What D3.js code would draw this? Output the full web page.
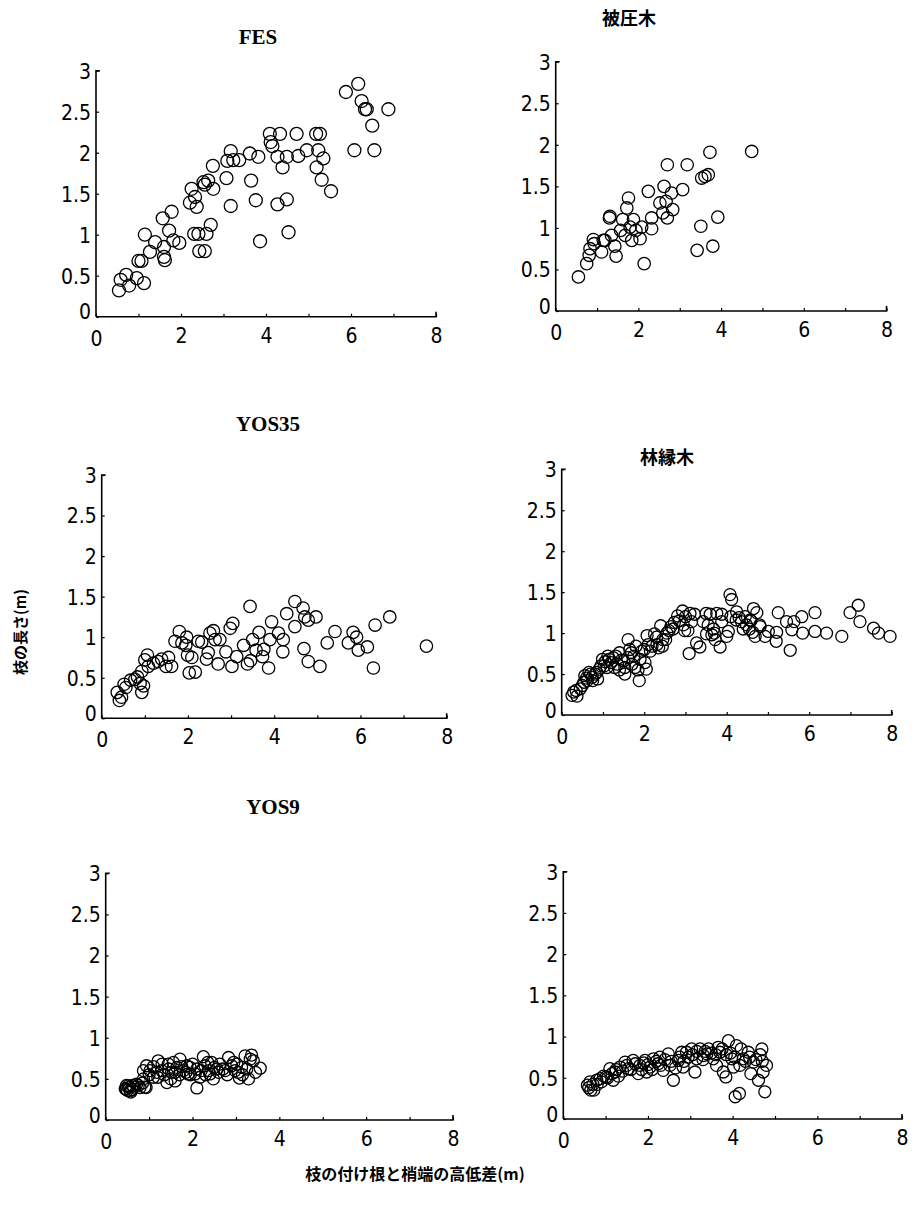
<!DOCTYPE html>
<html><head><meta charset="utf-8">
<script src="https://cdn.jsdelivr.net/npm/d3@7"></script>
<style>body{margin:0;background:#fff}</style>
</head><body>
<script>
// ---- data (x: 枝の付け根と梢端の高低差 m, y: 枝の長さ m) ----
const xTicks = [0, 2, 4, 6, 8];
const yTicks = [0, 0.5, 1, 1.5, 2, 2.5, 3];
const yTickLabels = ["0", "0.5", "1", "1.5", "2", "2.5", "3"];
const panelTitles = ["FES", "被圧木", "YOS35", "林縁木", "YOS9", ""];

const fesX = [0.54,0.58,0.71,0.78,0.96,1.13,1.0,1.07,1.15,1.27,1.39,1.57,1.6,1.6,1.62,1.72,1.78,1.82,1.96,2.25,2.21,2.33,2.37,2.31,2.41,2.43,2.56,2.6,2.7,2.53,2.64,2.56,2.76,2.75,3.07,3.09,3.17,3.23,3.37,3.17,3.62,3.65,3.76,3.82,3.86,4.09,4.11,4.15,4.27,4.33,4.39,4.27,4.49,4.49,4.53,4.72,4.76,4.96,5.18,5.27,5.23,5.19,5.35,5.31,5.53,5.88,6.17,6.25,6.33,6.37,6.5,6.08,6.55,6.88];
const fesY = [0.32,0.45,0.51,0.38,0.47,0.41,0.68,0.68,1.0,0.79,0.91,1.2,0.85,0.73,0.69,1.05,1.28,0.93,0.9,1.56,1.39,1.46,1.34,1.01,1.01,0.8,0.8,1.01,1.12,1.64,1.66,1.61,1.56,1.84,1.69,1.9,2.02,1.91,1.91,1.35,1.99,1.66,1.42,1.95,0.92,2.23,2.13,2.08,1.95,2.23,1.82,1.37,1.43,1.95,1.03,2.23,1.96,2.03,2.23,2.23,2.03,1.82,1.93,1.67,1.53,2.74,2.84,2.63,2.53,2.53,2.33,2.03,2.03,2.53];

const hiatsuX = [0.55,0.75,0.81,0.83,0.91,0.93,1.11,1.15,1.19,1.3,1.31,1.35,1.43,1.46,1.57,1.62,1.68,1.72,1.76,1.8,1.84,1.88,1.94,2.04,2.08,2.14,2.24,2.32,2.32,2.52,2.59,2.62,2.67,2.7,2.7,2.83,2.8,3.07,3.18,3.42,3.53,3.51,3.61,3.69,3.73,3.8,3.92,4.74];
const hiatsuY = [0.41,0.57,0.67,0.75,0.86,0.81,0.71,0.85,0.85,1.12,1.14,0.91,0.78,0.66,0.97,1.1,0.91,1.24,1.36,1.01,0.85,1.1,0.97,0.87,1.01,0.57,1.44,1.12,0.99,1.3,1.18,1.5,1.32,1.12,1.76,1.22,1.42,1.46,1.76,0.73,1.6,1.02,1.62,1.64,1.91,0.78,1.13,1.92];

const yos35X = [0.36,0.41,0.46,0.52,0.56,0.67,0.77,0.83,0.89,0.93,0.97,0.93,1.0,1.06,1.08,1.2,1.31,1.39,1.49,1.55,1.62,1.7,1.8,1.86,1.95,1.97,1.99,2.03,2.09,2.17,2.24,2.32,2.43,2.47,2.51,2.59,2.63,2.74,2.7,2.88,2.98,3.02,3.04,3.13,3.29,3.38,3.44,3.5,3.45,3.58,3.65,3.73,3.76,3.87,3.9,3.94,4.1,4.21,4.2,4.29,4.48,4.48,4.67,4.71,4.69,4.79,4.79,4.97,5.06,5.23,5.41,5.72,5.83,5.91,5.95,6.16,6.3,6.34,6.68,7.53];
const yos35Y = [0.32,0.22,0.26,0.42,0.38,0.47,0.48,0.51,0.43,0.32,0.4,0.58,0.72,0.78,0.64,0.68,0.7,0.73,0.64,0.75,0.64,0.95,1.07,0.93,0.9,1.0,0.78,0.56,0.75,0.57,0.95,0.94,0.73,0.81,1.05,1.08,0.97,0.97,0.67,0.82,1.11,0.64,1.17,0.76,0.9,0.67,1.38,0.97,0.71,0.84,1.06,0.76,0.85,0.62,0.97,1.19,1.05,0.97,0.82,1.29,1.44,1.13,1.36,1.25,0.86,0.7,1.21,1.25,0.64,0.93,1.07,0.93,1.06,1.0,0.84,0.88,0.62,1.15,1.25,0.89];

const rinenX = [0.25,0.29,0.37,0.45,0.54,0.56,0.62,0.66,0.74,0.81,0.87,0.91,0.99,1.03,1.12,1.2,1.28,1.31,1.4,1.45,1.53,1.53,1.61,1.65,1.69,1.78,1.8,1.88,1.94,2.05,2.02,2.07,2.19,2.25,2.31,2.4,2.44,2.52,2.6,2.73,2.81,2.93,2.98,3.06,3.11,3.15,3.09,3.22,3.27,3.35,3.43,3.51,3.5,3.6,3.64,3.68,3.72,3.76,3.84,3.88,3.88,4.0,4.04,4.08,4.12,4.24,4.23,4.3,4.36,4.4,4.48,4.57,4.59,4.63,4.65,4.73,4.69,4.81,4.93,5.01,5.21,5.2,5.25,5.45,5.54,5.58,5.63,5.82,5.84,6.14,6.14,6.42,6.79,6.99,7.19,7.23,7.56,7.68,7.96,
  0.35,0.5,0.6,0.7,0.75,0.85,0.95,1.05,1.1,1.15,1.25,1.35,1.4,1.5,1.6,1.7,1.75,1.85,1.9,2.0,2.1,2.15,2.3,2.35,2.45,2.55,2.65,2.7,2.85,2.95,3.0,3.55,3.7,4.1,4.45,4.55,4.8];
const rinenY = [0.24,0.28,0.23,0.32,0.4,0.48,0.42,0.52,0.46,0.5,0.44,0.56,0.68,0.6,0.72,0.64,0.58,0.72,0.76,0.67,0.5,0.58,0.92,0.8,0.76,0.58,0.84,0.42,0.78,0.56,0.64,0.97,0.84,0.99,0.86,1.09,0.84,0.92,1.03,1.13,1.21,1.27,1.03,1.03,1.24,1.14,0.75,1.23,0.88,0.83,1.14,0.99,1.24,1.23,0.98,1.05,0.92,1.24,0.83,1.14,1.23,0.96,1.02,1.47,1.41,1.26,1.16,1.19,1.14,1.05,1.1,1.16,1.15,1.01,1.3,1.25,0.96,1.08,0.96,1.02,1.01,0.9,1.25,1.14,0.79,1.04,1.14,1.2,1.0,1.25,1.02,1.0,0.96,1.25,1.34,1.14,1.06,1.0,0.96,
  0.3,0.36,0.45,0.5,0.42,0.52,0.6,0.65,0.58,0.68,0.7,0.62,0.55,0.66,0.7,0.62,0.72,0.55,0.68,0.8,0.86,0.78,0.95,0.82,0.92,1.0,1.08,1.05,1.15,1.1,1.2,1.1,1.0,1.2,1.2,1.05,1.1];

const yos9X = [0.47,0.52,0.56,0.64,0.71,0.79,0.93,0.87,0.94,1.02,1.1,1.21,1.29,1.41,1.44,1.52,1.6,1.64,1.71,1.79,1.87,1.94,2.06,2.1,2.17,2.25,2.29,2.37,2.44,2.48,2.56,2.63,2.83,2.9,2.98,3.08,3.13,3.21,3.29,3.33,3.36,3.56,0.87,1.18,1.56,1.9,2.4,2.75,3.02,
  0.45,0.5,0.55,0.6,0.62,0.48,0.58,0.75,0.85,0.9,1.0,1.1,1.2,1.3,1.35,1.45,1.5,1.6,1.7,1.75,1.85,1.95,2.0,2.1,2.2,2.3,2.35,2.5,2.6,2.7,2.8,2.95,3.05,3.15,3.25,3.4,3.45];
const yos9Y = [0.375,0.415,0.355,0.4,0.435,0.395,0.395,0.5,0.66,0.6,0.52,0.72,0.6,0.455,0.68,0.58,0.475,0.64,0.74,0.6,0.66,0.64,0.56,0.39,0.52,0.77,0.66,0.6,0.7,0.5,0.62,0.68,0.76,0.66,0.6,0.51,0.64,0.78,0.5,0.74,0.79,0.63,0.6,0.58,0.7,0.56,0.56,0.6,0.68,
  0.38,0.36,0.4,0.37,0.42,0.42,0.34,0.42,0.45,0.4,0.55,0.65,0.52,0.68,0.55,0.62,0.5,0.58,0.55,0.65,0.58,0.55,0.68,0.62,0.6,0.55,0.7,0.64,0.58,0.62,0.55,0.7,0.58,0.55,0.62,0.72,0.58];

const yos9bX = [0.57,0.63,0.72,0.79,0.87,1.01,1.1,1.18,1.22,1.34,1.46,1.54,1.65,1.77,1.81,1.93,2.05,2.13,2.24,2.36,2.48,2.52,2.6,2.72,2.83,2.91,3.03,3.11,3.23,3.31,3.43,3.54,3.62,3.7,3.78,3.84,3.9,3.98,4.02,4.09,4.06,4.16,4.25,4.37,4.43,4.49,4.61,4.69,4.72,4.76,4.8,1.97,2.28,2.8,3.15,3.39,3.66,4.17,
  0.6,0.65,0.7,0.8,0.9,0.95,1.05,1.15,1.25,1.3,1.4,1.5,1.6,1.7,1.85,1.9,2.0,2.1,2.2,2.3,2.4,2.55,2.65,2.75,2.85,2.95,3.05,3.15,3.3,3.35,3.5,3.6,3.75,3.85,3.95,4.05,4.2,4.3,4.4,4.55,4.65,4.7];
const yos9bY = [0.41,0.45,0.35,0.47,0.49,0.51,0.61,0.47,0.57,0.63,0.69,0.61,0.71,0.55,0.65,0.71,0.63,0.73,0.67,0.59,0.79,0.65,0.47,0.71,0.63,0.81,0.85,0.57,0.85,0.77,0.85,0.73,0.65,0.81,0.57,0.51,0.95,0.73,0.63,0.89,0.27,0.31,0.73,0.81,0.55,0.69,0.47,0.85,0.57,0.33,0.65,0.57,0.75,0.81,0.73,0.79,0.87,0.65,
  0.38,0.35,0.42,0.42,0.45,0.52,0.5,0.55,0.6,0.52,0.58,0.65,0.6,0.67,0.6,0.68,0.66,0.6,0.7,0.65,0.72,0.7,0.62,0.75,0.7,0.75,0.78,0.82,0.72,0.82,0.8,0.78,0.85,0.78,0.8,0.75,0.85,0.7,0.75,0.72,0.78,0.7];

const seriesX = [fesX, hiatsuX, yos35X, rinenX, yos9X, yos9bX];
const seriesY = [fesY, hiatsuY, yos35Y, rinenY, yos9Y, yos9bY];

// ---- layout ----
const W = 916, H = 1211;
const boxes = [
  {l: 96,    r: 436,   b: 316.7, t: 70.7,  rad: 6.5, title: [258, 44, "serif"]},
  {l: 555.7, r: 886.5, b: 311,   t: 61.7,  rad: 6.2, title: [629, 25, "cjk"]},
  {l: 101.7, r: 446.7, b: 718.3, t: 475,   rad: 6.2, title: [268, 431, "serif"]},
  {l: 561.7, r: 891.7, b: 715,   t: 469.3, rad: 6.0, title: [667, 464, "cjk"]},
  {l: 105.7, r: 453,   b: 1120,  t: 873.3, rad: 6.0, title: [273, 814, "serif"]},
  {l: 563.3, r: 902,   b: 1119,  t: 871.7, rad: 6.0, title: [700, 820, "cjk"]}
];

const svg = d3.select("body").append("svg").attr("width", W).attr("height", H)
  .style("font-family", "'DejaVu Sans Condensed','DejaVu Sans',sans-serif");

boxes.forEach((bx, i) => {
  const x = d3.scaleLinear().domain([0, 8]).range([bx.l, bx.r]);
  const y = d3.scaleLinear().domain([0, 3]).range([bx.b, bx.t]);
  const g = svg.append("g");

  const xa = g.append("g").attr("transform", `translate(0,${bx.b})`)
    .call(d3.axisBottom(x).tickValues(d3.range(0, 9, 1)).tickSize(-3).tickPadding(8)
      .tickFormat(d => xTicks.includes(d) ? d : ""));
  const ya = g.append("g").attr("transform", `translate(${bx.l},0)`)
    .call(d3.axisLeft(y).tickValues(yTicks).tickSize(-3).tickPadding(5)
      .tickFormat((d, k) => yTickLabels[k]));
  [xa, ya].forEach(a => {
    a.select(".domain").attr("stroke", "#000").attr("stroke-width", 1.6);
    a.selectAll(".tick line").attr("stroke", "#000").attr("stroke-width", 1.2);
    a.selectAll(".tick text").attr("fill", "#000").style("font-size", "21px")
      .style("font-family", "'DejaVu Sans Condensed','DejaVu Sans',sans-serif");
  });
  xa.select(".domain").attr("d", `M${bx.l},0H${bx.r}V-5`);
  ya.select(".domain").attr("d", `M4,${bx.t}H0V${bx.b}`);
  xa.selectAll(".tick text").attr("dy", "0.85em");
  ya.selectAll(".tick text").attr("dy", "0.35em");
  ya.selectAll(".tick").filter(d => d === 0).select("text").attr("dy", "0.1em");
  xa.selectAll(".tick").filter(d => d === 0).select("text").attr("dy", "1.0em");

  const xs = seriesX[i], ys = seriesY[i];
  g.append("g").selectAll("circle").data(d3.range(xs.length)).join("circle")
    .attr("cx", k => x(xs[k])).attr("cy", k => y(ys[k])).attr("r", bx.rad)
    .attr("fill", "none").attr("stroke", "#000").attr("stroke-width", 1.3);

  if (panelTitles[i]) {
    const t = svg.append("text").attr("x", bx.title[0]).attr("y", bx.title[1])
      .attr("text-anchor", "middle").attr("fill", "#000").attr("font-weight", "bold")
      .text(panelTitles[i]);
    if (bx.title[2] === "serif") t.style("font-family", "'Liberation Serif','Times New Roman',serif").style("font-size", "21px");
    else t.style("font-family", "'Noto Sans CJK JP',sans-serif").style("font-size", "18px");
  }
});

svg.append("text").attr("transform", "translate(26,632) rotate(-90)")
  .attr("text-anchor", "middle").style("font-family", "'Noto Sans CJK JP',sans-serif")
  .style("font-size", "15px").attr("font-weight", "bold").text("枝の長さ(m)");
svg.append("text").attr("x", 415).attr("y", 1180)
  .attr("text-anchor", "middle").style("font-family", "'Noto Sans CJK JP',sans-serif")
  .style("font-size", "16px").attr("font-weight", "bold").text("枝の付け根と梢端の高低差(m)");
</script>
</body></html>
